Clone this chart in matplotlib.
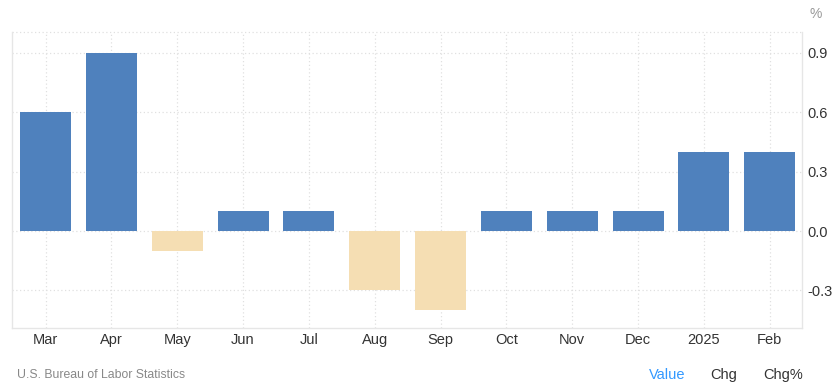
import matplotlib.pyplot as plt
import numpy as np

plt.rcParams['font.family'] = ['Liberation Sans', 'DejaVu Sans']

months = ['Mar', 'Apr', 'May', 'Jun', 'Jul', 'Aug', 'Sep', 'Oct', 'Nov', 'Dec', '2025', 'Feb']
values = [0.6, 0.9, -0.1, 0.1, 0.1, -0.3, -0.4, 0.1, 0.1, 0.1, 0.4, 0.4]
yticks = [-0.3, 0.0, 0.3, 0.6, 0.9]

pos_color = '#4f81bd'
neg_color = '#f5deb3'
grid_color = '#e0e0e0'

fig = plt.figure(figsize=(8.39, 3.87), dpi=100)
ax = fig.add_axes([0.0143, 0.1525, 0.9416, 0.7645])

x = np.arange(len(months))
colors = [pos_color if v >= 0 else neg_color for v in values]
ax.bar(x, values, width=0.775, color=colors, zorder=3)

ymin, ymax = -0.49, 1.005
ax.set_xlim(-0.51, 11.49)
ax.set_ylim(ymin, ymax)

# dotted grid at category centres and value ticks
for xi in x:
    ax.axvline(xi, color=grid_color, lw=0.9, ls=(0, (1, 2)), zorder=1)
for yv in yticks + [ymax]:
    ax.axhline(yv, color=grid_color, lw=0.9, ls=(0, (1, 2)), zorder=1, clip_on=False)

for side in ['left', 'right', 'bottom']:
    ax.spines[side].set_color('#e6e6e6')
    ax.spines[side].set_linewidth(1)
ax.spines['top'].set_visible(False)

ax.set_xticks(x)
ax.set_xticklabels(months)
ax.yaxis.tick_right()
ax.set_yticks(yticks)
ax.set_yticklabels(['%.1f' % t for t in yticks])
ax.tick_params(axis='both', length=0, labelsize=10.5, colors='#333333')
ax.tick_params(axis='x', pad=3.5)
ax.tick_params(axis='y', pad=4)

fig.text(0.98, 0.965, '%', ha='right', va='center', fontsize=10, color='#999999')
fig.text(0.02, 0.03, 'U.S. Bureau of Labor Statistics', ha='left', va='center', fontsize=8.8, color='#888888')
fig.text(0.795, 0.03, 'Value', ha='center', va='center', fontsize=10.5, color='#3399ff')
fig.text(0.863, 0.03, 'Chg', ha='center', va='center', fontsize=10.5, color='#333333')
fig.text(0.933, 0.03, 'Chg%', ha='center', va='center', fontsize=10.5, color='#333333')

fig.savefig('out.png', dpi=100)
